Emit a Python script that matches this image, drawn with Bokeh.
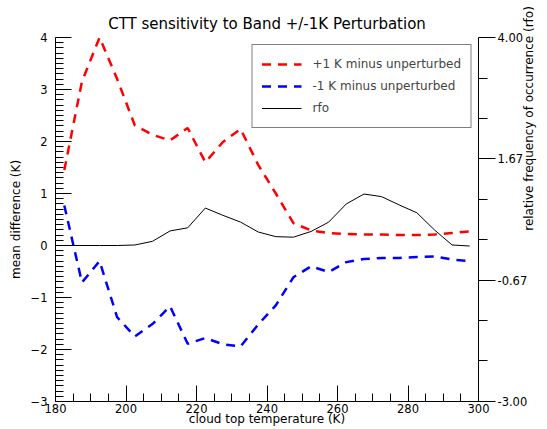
import math
from bokeh.plotting import figure
from bokeh.models import (LinearAxis, SingleIntervalTicker, FixedTicker, Legend,
                          LegendItem, PrintfTickFormatter, Range1d)
from bokeh.embed import file_html
from bokeh.resources import INLINE

temps = [182.5, 187.5, 192.5, 197.5, 202.5, 207.5, 212.5, 217.5, 222.5, 227.5,
         232.5, 237.5, 242.5, 247.5, 252.5, 257.5, 262.5, 267.5, 272.5, 277.5,
         282.5, 287.5, 292.5, 297.5]
plus1 = [1.45, 3.15, 4.0, 3.2, 2.31, 2.13, 2.02, 2.26, 1.60, 1.99,
         2.24, 1.55, 1.0, 0.43, 0.29, 0.24, 0.22, 0.21, 0.21, 0.20,
         0.20, 0.21, 0.24, 0.27]
minus1 = [0.77, -0.71, -0.30, -1.38, -1.75, -1.51, -1.17, -1.89, -1.78, -1.90,
          -1.94, -1.52, -1.15, -0.61, -0.40, -0.51, -0.32, -0.26, -0.24, -0.24,
          -0.22, -0.21, -0.27, -0.30]
rfo = [0.0, 0.0, 0.0, 0.0, 0.01, 0.08, 0.28, 0.34, 0.72, 0.58,
       0.45, 0.26, 0.17, 0.16, 0.27, 0.45, 0.80, 0.99, 0.94, 0.78,
       0.63, 0.30, 0.01, -0.01]
right_ticks = [-3.0, -0.67, 1.67, 4.0]
right_title = "relative frequency of occurrence (rfo)"

FONT = "DejaVu Sans"

p = figure(width=547, height=429, output_backend="svg", toolbar_location=None,
           x_range=Range1d(180, 300), y_range=Range1d(-3, 4),
           min_border_left=55, min_border_right=69, min_border_top=37,
           min_border_bottom=28, outline_line_color=None,
           title="CTT sensitivity to Band +/-1K Perturbation")
p.grid.visible = False
p.background_fill_color = "white"
p.border_fill_color = "white"

p.title.align = "center"
p.title.text_font = FONT
p.title.text_font_size = "15px"
p.title.text_font_style = "normal"
p.title.text_color = "black"
p.title.standoff = 10

# bottom axis
xa = p.xaxis[0]
xa.ticker = SingleIntervalTicker(interval=20, num_minor_ticks=4)
xa.major_tick_in = 16
xa.major_tick_out = 0
xa.minor_tick_in = 8
xa.minor_tick_out = 0
xa.axis_label = "cloud top temperature (K)"
xa.major_label_standoff = 2
xa.axis_label_standoff = -4

# left axis
ya = p.yaxis[0]
ya.ticker = SingleIntervalTicker(interval=1, num_minor_ticks=10)
ya.major_tick_in = 16
ya.major_tick_out = 0
ya.minor_tick_in = 8
ya.minor_tick_out = 0
ya.axis_label = "mean difference (K)"
ya.major_label_standoff = 8
ya.axis_label_standoff = 5

# right axis
ra = LinearAxis(ticker=FixedTicker(ticks=right_ticks,
                                   minor_ticks=[-2.22, -1.44, 0.11, 0.89, 2.44, 3.22]),
                formatter=PrintfTickFormatter(format="%.2f"))
ra.major_tick_in = 0
ra.major_tick_out = 17
ra.minor_tick_in = 0
ra.minor_tick_out = 9
ra.major_label_standoff = 2
p.add_layout(ra, "right")

for ax in [xa, ya, ra]:
    ax.axis_line_color = "black"
    ax.major_tick_line_color = "black"
    ax.minor_tick_line_color = "black"
    ax.major_label_text_font = FONT
    ax.major_label_text_font_size = "11.5px"
    ax.major_label_text_color = "black"
    ax.axis_label_text_font = FONT
    ax.axis_label_text_font_size = "12px"
    ax.axis_label_text_font_style = "normal"
    ax.axis_label_text_color = "black"

# right-side title as a rotated single tick label of an extra bare axis
ta = LinearAxis(ticker=FixedTicker(ticks=[0.5], minor_ticks=[]),
                major_label_overrides={0.5: right_title})
ta.axis_line_color = None
ta.major_tick_line_color = None
ta.minor_tick_line_color = None
ta.major_tick_in = 0
ta.major_tick_out = 0
ta.major_label_standoff = -1
ta.major_label_orientation = math.pi / 2
ta.major_label_text_font = FONT
ta.major_label_text_font_size = "12px"
ta.major_label_text_color = "black"
p.add_layout(ta, "right")

r1 = p.line(temps, plus1, line_color="#ff0000", line_width=2.5, line_dash="9 7")
r2 = p.line(temps, minus1, line_color="#0000ff", line_width=2.5, line_dash="9 7")
r3 = p.line(temps, rfo, line_color="black", line_width=1)

legend = Legend(items=[LegendItem(label="+1 K minus unperturbed", renderers=[r1]),
                       LegendItem(label="-1 K minus unperturbed", renderers=[r2]),
                       LegendItem(label="rfo", renderers=[r3])],
                location="top_right")
legend.label_text_font = FONT
legend.label_text_font_size = "12px"
legend.glyph_width = 40
legend.glyph_height = 20
legend.label_height = 20
legend.label_standoff = 11
legend.padding = 9
legend.spacing = 2
legend.margin = 7
legend.border_line_color = "black"
legend.border_line_width = 1
legend.background_fill_alpha = 1
p.add_layout(legend)

open("out.html", "w").write(file_html(p, INLINE))
